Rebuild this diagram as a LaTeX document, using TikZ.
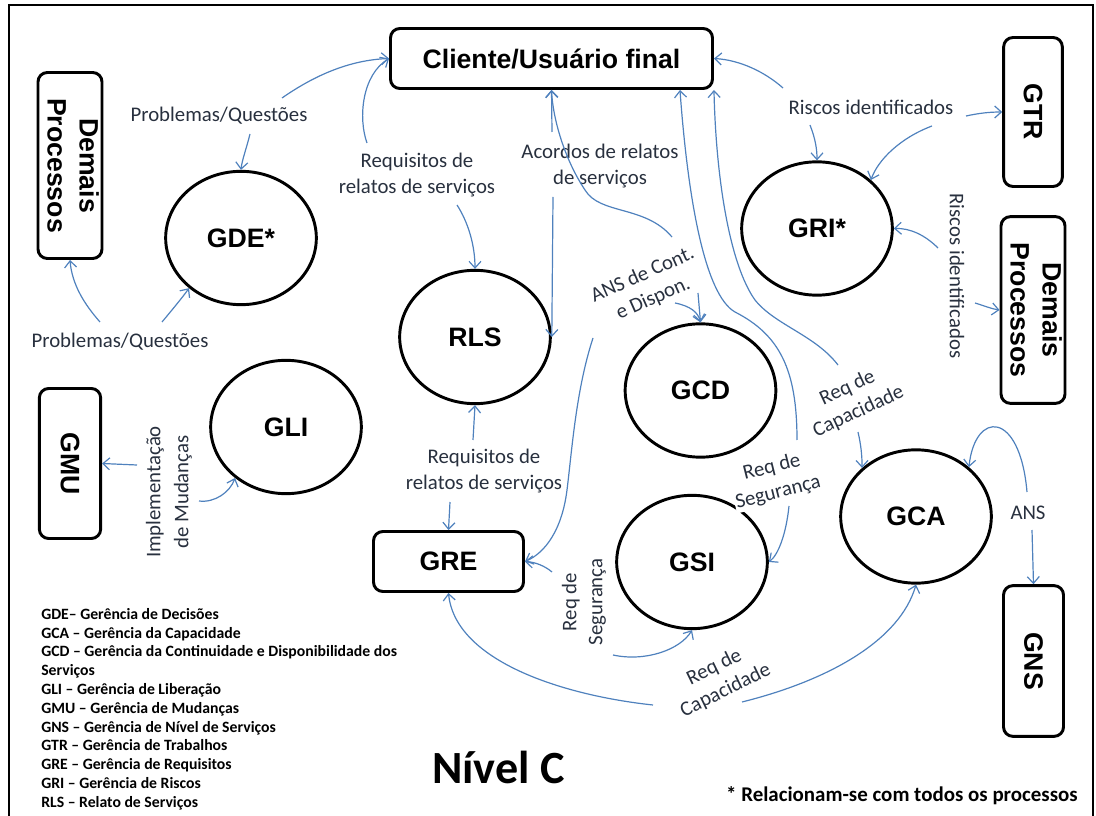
\documentclass[tikz,border=0pt]{standalone}
\usepackage{fontspec}
\setmainfont{Carlito}
\newfontfamily\arialfont{Liberation Sans}
\usetikzlibrary{shapes.geometric,arrows.meta}
\definecolor{linkblue}{RGB}{79,129,189}
\definecolor{labelink}{RGB}{40,48,62}
\begin{document}
\begin{tikzpicture}[x=0.75pt,y=-0.75pt,
  proc/.style={ellipse,draw,line width=2.2pt,minimum width=113pt,minimum height=100pt,inner sep=0pt,
    font=\arialfont\bfseries\fontsize{20}{24}\selectfont},
  box/.style={draw,rounded corners=7pt,line width=2.2pt,inner sep=0pt,
    font=\arialfont\bfseries\fontsize{20}{24}\selectfont},
  lbl/.style={text=labelink,font=\fontsize{15.6}{19.5}\selectfont,align=center,inner sep=1pt},
  flow/.style={draw=linkblue,line width=0.9pt,-{Straight Barb[length=5pt,width=9pt]}},
]
\useasboundingbox (0,0) rectangle (1096,816);
% outer frame
\draw[line width=1.8pt] (9,817) -- (9,5) -- (1093,5) -- (1093,817);

% boxes
\node[box,minimum width=241.5pt,minimum height=45pt] (cli) at (551.5,58.5) {Cliente/Usuário final};
\node[box,minimum width=46pt,minimum height=139.5pt] (dpl) at (70,165.5)
  {\rotatebox{-90}{\begin{tabular}{@{}c@{}}Demais\\Processos\end{tabular}}};
\node[box,minimum width=46pt,minimum height=112.5pt] (gmu) at (70,463.5) {\rotatebox{-90}{GMU}};
\node[box,minimum width=44pt,minimum height=111.75pt] (gtr) at (1033,112) {\rotatebox{-90}{GTR}};
\node[box,minimum width=44pt,minimum height=140pt] (dpr) at (1033,310)
  {\rotatebox{-90}{\begin{tabular}{@{}c@{}}Demais\\Processos\end{tabular}}};
\node[box,minimum width=45pt,minimum height=113pt] (gns) at (1033.5,661) {\rotatebox{-90}{GNS}};
\node[box,minimum width=112.5pt,minimum height=45pt] (gre) at (448.5,561.5) {GRE};

% processes
\node[proc] (gde) at (241,238) {GDE*};
\node[proc] (gli) at (286,427) {GLI};
\node[proc] (rls) at (475,337) {RLS};
\node[proc] (gri) at (817,228.5) {GRI*};
\node[proc] (gsi) at (692,562) {GSI};
\node[proc] (gca) at (916,516.5) {GCA};

% flow labels
\node[lbl] (lpq1) at (219,116) {Problemas/Questões};
\node[lbl] (lpq2) at (120,342) {Problemas/Questões};
\node[lbl] (lrq1) at (417,175) {Requisitos de\\relatos de serviços};
\node[lbl] (lacs) at (600,166) {Acordos de relatos\\de serviços};
\node[lbl,rotate=24] (lans) at (648,287) {ANS de Cont.\\e Dispon.};
\node[lbl] (lri1) at (871,107) {Riscos identificados};
\node[lbl,rotate=-90] (lri2) at (957,276) {Riscos identificados};
\node[lbl,rotate=25] (lrc1) at (853,400) {Req de\\Capacidade};
\node[lbl,rotate=14,fill=white] (lrs1) at (775,480) {Req de\\Segurança};
\node[proc] (gcd) at (700.5,390.5) {GCD};
\node[lbl] (lrq2) at (484,471) {Requisitos de\\relatos de serviços};
\node[lbl,rotate=90] (lrs2) at (584,602) {Req de\\Segurança};
\node[lbl,rotate=26] (lrc2) at (720,679) {Req de\\Capacidade};
\node[lbl] (lans2) at (1028,513) {ANS};
\node[lbl,rotate=90,font=\fontsize{15.6}{21}\selectfont] (limp) at (169,492) {Implementação\\de Mudanças};

% connector ends next to the labels
\coordinate (s1) at (282,98);
\coordinate (s2) at (367,143);
\coordinate (s3) at (250,134);
\coordinate (s4) at (457,205);
\coordinate (s5) at (552,132);
\coordinate (s6) at (553,197);
\coordinate (s7) at (672,237);
\coordinate (s8a) at (675,303);
\coordinate (s8b) at (698,293);
\coordinate (s9) at (593,338);
\coordinate (s10) at (552,572);
\coordinate (s11) at (473,440);
\coordinate (s12) at (450,502);
\coordinate (s13) at (613,655);
\coordinate (s14) at (653,705);
\coordinate (s15) at (742,702);
\coordinate (s16) at (789,506);
\coordinate (s17) at (797,440);
\coordinate (s18) at (838,365);
\coordinate (s19) at (858,432);
\coordinate (s20) at (783,88);
\coordinate (s21) at (966,116);
\coordinate (s22) at (810,125);
\coordinate (s23) at (932,126);
\coordinate (s24) at (938,248);
\coordinate (s25) at (975,303);
\coordinate (s26) at (1027,492);
\coordinate (s27) at (1032,530);
\coordinate (s28) at (100,322);
\coordinate (s29) at (162,322);
\coordinate (s30) at (137,465);
\coordinate (s31) at (199,501);

% connectors
\draw[flow] (s1) .. controls (315,75) and (350,60) .. (cli.west);
\draw[flow] (s2) .. controls (358,118) and (362,75) .. (cli.west);
\draw[flow] (s3) .. controls (246,150) and (242,160) .. (gde.north);
\draw[flow] (s4) .. controls (468,222) and (475,245) .. (rls.north);
\draw[flow] (s5) -- (cli.south);
\draw[flow] (s6) -- (rls.east);
\draw[flow] (s7) .. controls (645,205) and (600,215) .. (585,190)
  .. controls (565,160) and (553,120) .. (cli.south);
\draw[flow] (s8a) .. controls (690,306) and (698,312) .. (gcd.north);
\draw[flow] (s8b) -- (gcd.north);
\draw[flow] (s9) .. controls (576,390) and (572,450) .. (567,490)
  .. controls (562,530) and (545,553) .. (gre.east);
\draw[flow] (s10) .. controls (545,566) and (535,562) .. (gre.east);
\draw[flow] (s11) -- (rls.south);
\draw[flow] (s12) -- (gre.north);
\draw[flow] (s13) .. controls (645,662) and (680,650) .. (gsi.south);
\draw[flow] (s14) .. controls (560,695) and (455,660) .. (gre.south);
\draw[flow] (s15) .. controls (830,680) and (900,640) .. (gca.south);
\draw[flow] (s16) .. controls (786,535) and (778,555) .. (gsi.east);
\draw[flow] (s17) .. controls (797,370) and (780,335) .. (735,312)
  .. controls (705,295) and (688,200) .. ([shift={(-34,0)}]cli.south east);
\draw[flow] (s18) .. controls (815,335) and (775,325) .. (755,300)
  .. controls (730,265) and (716,180) .. (cli.south east);
\draw[flow] (s19) .. controls (861,445) and (862,455) .. (gca.138);
\draw[flow] (s20) .. controls (765,72) and (740,60) .. (cli.east);
\draw[flow] (s21) .. controls (980,113) and (990,112) .. (gtr.west);
\draw[flow] (s22) .. controls (815,138) and (817,148) .. (gri.north);
\draw[flow] (s23) .. controls (900,138) and (878,160) .. (gri.42);
\draw[flow] (s24) .. controls (925,235) and (910,228) .. (gri.east);
\draw[flow] (s25) .. controls (985,306) and (992,309) .. (dpr.west);
\draw[flow] (s26) .. controls (1020,410) and (975,410) .. (gca.43);
\draw[flow] (s27) -- (gns.north);
\draw[flow] (s28) .. controls (85,305) and (72,285) .. (dpl.south);
\draw[flow] (s29) .. controls (172,310) and (182,298) .. (gde.224);
\draw[flow] (s30) -- (gmu.east);
\draw[flow] (s31) .. controls (215,503) and (230,492) .. (gli.225);

% titles and legend
\node[anchor=base,font=\bfseries\fontsize{34.6}{40}\selectfont] (niv) at (498.5,783) {Nível C};
\node[anchor=base east,inner sep=0pt,font=\bfseries\fontsize{15.7}{18}\selectfont] (fn) at (1078,801)
  {* Relacionam-se com todos os processos};
\node[anchor=north west,align=left,inner sep=0pt,font=\bfseries\fontsize{11.8}{14.1}\selectfont] (leg) at (41,608)
  {GDE– Gerência de Decisões\\
   GCA – Gerência da Capacidade\\
   GCD – Gerência da Continuidade e Disponibilidade dos\\
   Serviços\\
   GLI – Gerência de Liberação\\
   GMU – Gerência de Mudanças\\
   GNS – Gerência de Nível de Serviços\\
   GTR – Gerência de Trabalhos\\
   GRE – Gerência de Requisitos\\
   GRI – Gerência de Riscos\\
   RLS – Relato de Serviços};
\end{tikzpicture}
\end{document}
